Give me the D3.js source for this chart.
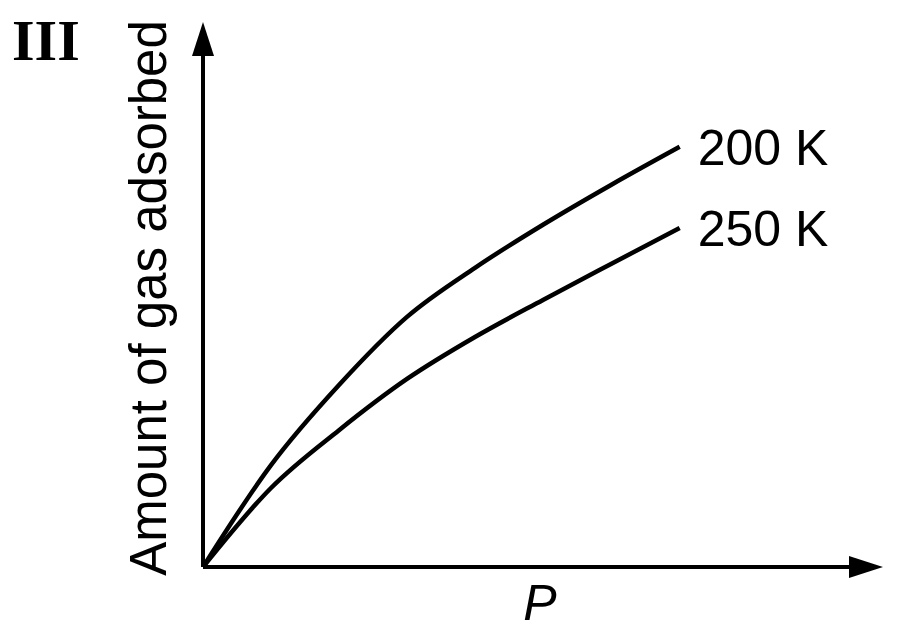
<!DOCTYPE html>
<html><head><meta charset="utf-8">
<script src="https://cdn.jsdelivr.net/npm/d3@7"></script>
<style>body{margin:0;background:#fff}</style>
</head><body>
<svg id="c" width="900" height="631"></svg>
<script>
// pressure (arbitrary units) and amount adsorbed
const pressure = [0, 1, 2, 3, 4, 5, 6, 7.01]
const amount200 = [0, 1.87, 3.34, 4.59, 5.49, 6.28, 7.01, 7.71]
const amount250 = [0, 1.45, 2.51, 3.45, 4.22, 4.90, 5.56, 6.22]
const seriesLabels = ["200 K", "250 K"]

const svg = d3.select("#c")
const x = d3.scaleLinear().domain([0, 10]).range([203, 883])
const y = d3.scaleLinear().domain([0, 10]).range([567, 22])

// axes with arrow heads
svg.append("line").attr("x1", x(0)).attr("y1", y(0)).attr("x2", x(0)).attr("y2", y(9.6))
  .attr("stroke", "#000").attr("stroke-width", 4)
svg.append("line").attr("x1", x(0)).attr("y1", y(0)).attr("x2", x(9.7)).attr("y2", y(0))
  .attr("stroke", "#000").attr("stroke-width", 4)
svg.append("path").attr("d", `M${x(0)},${y(10)} L${x(0) - 11},${y(10) + 34} L${x(0) + 11},${y(10) + 34} Z`)
svg.append("path").attr("d", `M${x(10)},${y(0)} L${x(10) - 34},${y(0) - 11} L${x(10) - 34},${y(0) + 11} Z`)

const line = d3.line().x((d, i) => x(pressure[i])).y(d => y(d)).curve(d3.curveMonotoneX)
;[amount200, amount250].forEach((s, k) => {
  svg.append("path").attr("d", line(s)).attr("fill", "none")
    .attr("stroke", "#000").attr("stroke-width", 4.5)
  svg.append("text").attr("x", x(pressure[pressure.length - 1]) + 18).attr("y", y(s[s.length - 1]) + 18)
    .attr("font-family", "Liberation Sans, Arial").attr("font-size", 50).text(seriesLabels[k])
})

svg.append("text").attr("transform", "translate(166,298) rotate(-90)").attr("text-anchor", "middle")
  .attr("font-family", "Liberation Sans, Arial").attr("font-size", 51).text("Amount of gas adsorbed")
svg.append("text").attr("x", 540).attr("y", 620).attr("text-anchor", "middle")
  .attr("font-family", "Liberation Sans, Arial").attr("font-style", "italic").attr("font-size", 50).text("P")
svg.append("text").attr("x", 12).attr("y", 60)
  .attr("font-family", "Liberation Serif, Times New Roman").attr("font-weight", "bold").attr("font-size", 58).text("III")
</script>
</body></html>
